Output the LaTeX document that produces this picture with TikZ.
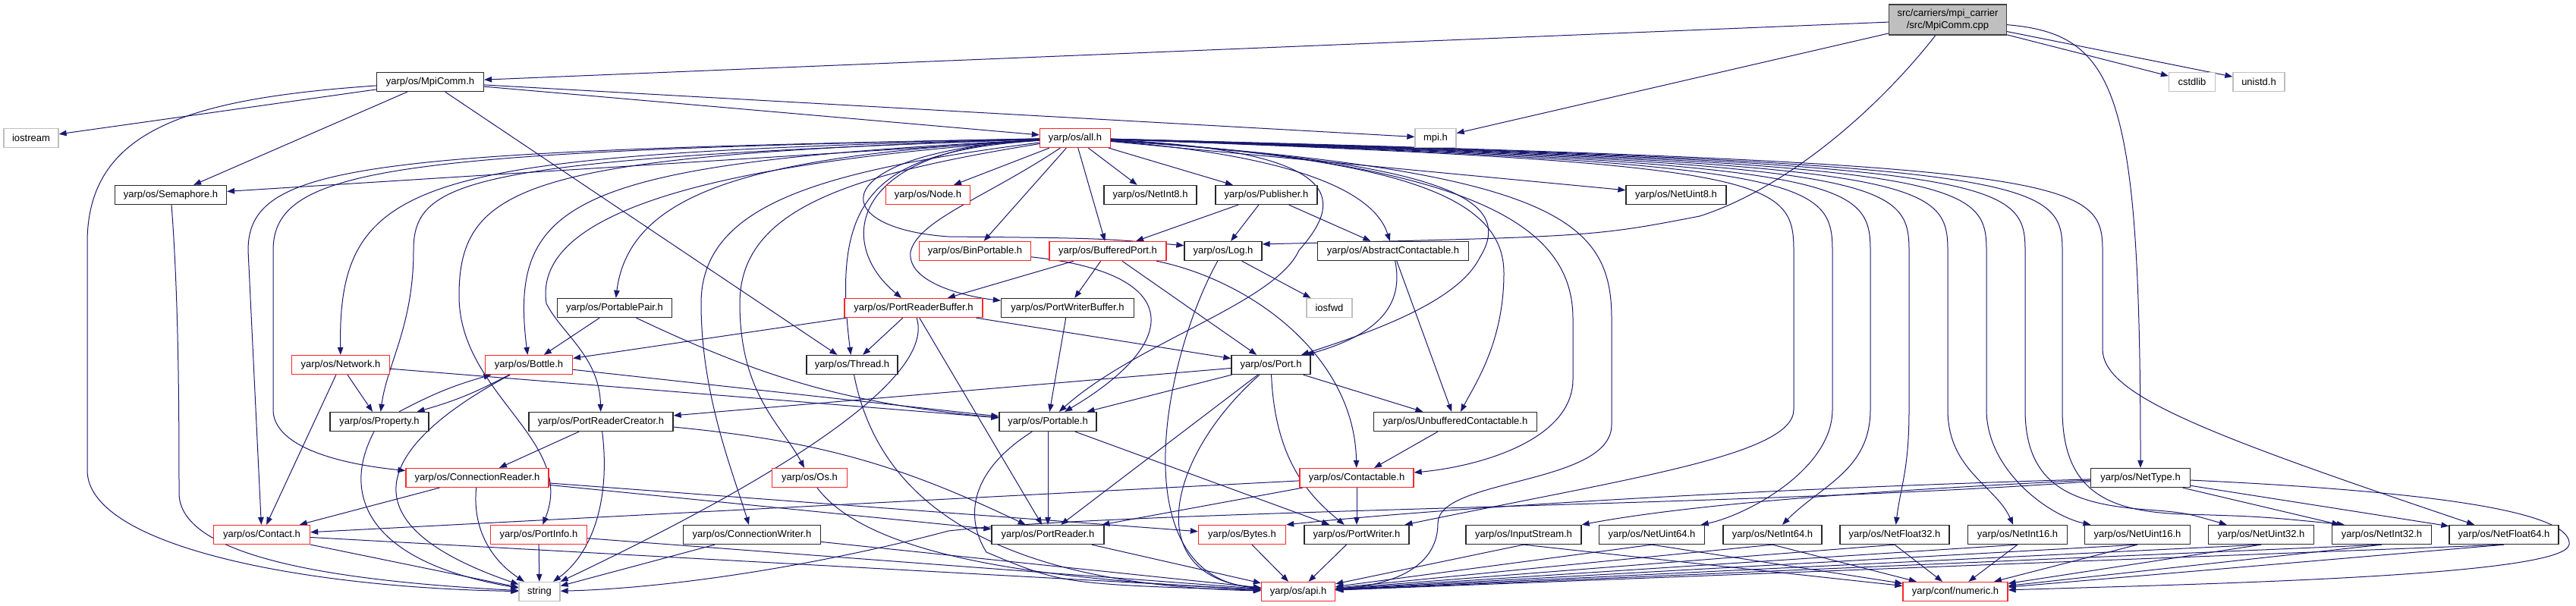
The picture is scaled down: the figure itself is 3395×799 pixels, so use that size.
\documentclass[tikz,border=0pt]{standalone}
\usepackage{fontspec}
\setmainfont{Liberation Sans}
\usetikzlibrary{arrows.meta,backgrounds}
\usepackage{xcolor}
\definecolor{edgeblue}{RGB}{25,25,112}
\definecolor{boxline}{RGB}{40,40,40}
\definecolor{truncred}{RGB}{250,40,40}
\definecolor{sysgrey}{RGB}{191,191,191}
\definecolor{rootfill}{RGB}{191,191,191}
\definecolor{rootline}{RGB}{64,64,64}

\begin{document}
\begin{tikzpicture}[x=1pt,y=-1pt,
  hdr/.style={draw=boxline,line width=1.3pt,fill=white,minimum height=25pt,
    inner xsep=2pt,inner ysep=0pt,text=black,font=\fontsize{13}{16}\selectfont},
  trunc/.style={hdr,draw=truncred},
  sys/.style={hdr,draw=sysgrey},
  src/.style={hdr,draw=rootline,fill=rootfill,minimum height=40pt,align=center},
  dep/.style={edgeblue,line width=1pt,-{Triangle[length=10pt,width=7.5pt]}}]

  \useasboundingbox (0,0) rectangle (3395,799);

  % --- row 0: the source file ---
  \node[src,minimum width=155] (cpp) at (2567,26) {src/carriers/mpi\_carrier\\/src/MpiComm.cpp};

  % --- row 1 ---
  \node[hdr,minimum width=141] (mpicomm) at (567,108) {yarp/os/MpiComm.h};
  \node[sys,minimum width=61] (cstdlib) at (2889,108) {cstdlib};
  \node[sys,minimum width=68] (unistd) at (2977,108) {unistd.h};

  % --- row 2 ---
  \node[sys,minimum width=72] (iostream) at (41,182) {iostream};
  \node[trunc,minimum width=93] (all) at (1417,182) {yarp/os/all.h};
  \node[sys,minimum width=54] (mpih) at (1892,182) {mpi.h};

  % --- row 3 ---
  \node[hdr,minimum width=147] (semaphore) at (225,257) {yarp/os/Semaphore.h};
  \node[trunc,minimum width=111] (node) at (1223,257) {yarp/os/Node.h};
  \node[hdr,minimum width=122] (netint8) at (1516,257) {yarp/os/NetInt8.h};
  \node[hdr,minimum width=134] (publisher) at (1669,257) {yarp/os/Publisher.h};
  \node[hdr,minimum width=132] (netuint8) at (2209,257) {yarp/os/NetUint8.h};

  % --- row 4 ---
  \node[trunc,minimum width=147] (binportable) at (1285,331) {yarp/os/BinPortable.h};
  \node[trunc,minimum width=154] (bufferedport) at (1460,331) {yarp/os/BufferedPort.h};
  \node[hdr,minimum width=102] (logh) at (1612,331) {yarp/os/Log.h};
  \node[hdr,minimum width=199] (abstractcont) at (1836,331) {yarp/os/AbstractContactable.h};

  % --- row 5 ---
  \node[hdr,minimum width=151] (portablepair) at (810,406) {yarp/os/PortablePair.h};
  \node[trunc,minimum width=182] (prbuffer) at (1204,406) {yarp/os/PortReaderBuffer.h};
  \node[hdr,minimum width=175] (pwbuffer) at (1407,406) {yarp/os/PortWriterBuffer.h};
  \node[sys,minimum width=60] (iosfwd) at (1752,406) {iosfwd};

  % --- row 6 ---
  \node[trunc,minimum width=129] (network) at (449,481) {yarp/os/Network.h};
  \node[trunc,minimum width=115] (bottle) at (697,481) {yarp/os/Bottle.h};
  \node[hdr,minimum width=120] (thread) at (1123,481) {yarp/os/Thread.h};
  \node[hdr,minimum width=104] (port) at (1675,481) {yarp/os/Port.h};

  % --- row 7 ---
  \node[hdr,minimum width=130] (property) at (500,556) {yarp/os/Property.h};
  \node[hdr,minimum width=190] (prcreator) at (792,556) {yarp/os/PortReaderCreator.h};
  \node[hdr,minimum width=128] (portable) at (1381,556) {yarp/os/Portable.h};
  \node[hdr,minimum width=215] (unbufcont) at (1918,556) {yarp/os/UnbufferedContactable.h};

  % --- row 8 ---
  \node[trunc,minimum width=188] (connreader) at (629,630) {yarp/os/ConnectionReader.h};
  \node[trunc,minimum width=99] (os) at (1067,630) {yarp/os/Os.h};
  \node[trunc,minimum width=150] (contactable) at (1788,630) {yarp/os/Contactable.h};
  \node[hdr,minimum width=131] (nettype) at (2821,630) {yarp/os/NetType.h};

  % --- row 9 ---
  \node[trunc,minimum width=127] (contact) at (345,705) {yarp/os/Contact.h};
  \node[trunc,minimum width=127] (portinfo) at (710,705) {yarp/os/PortInfo.h};
  \node[hdr,minimum width=181] (connwriter) at (991,705) {yarp/os/ConnectionWriter.h};
  \node[hdr,minimum width=148] (portreader) at (1381,705) {yarp/os/PortReader.h};
  \node[trunc,minimum width=115] (bytes) at (1637,705) {yarp/os/Bytes.h};
  \node[hdr,minimum width=138] (portwriter) at (1788,705) {yarp/os/PortWriter.h};
  \node[hdr,minimum width=152] (inputstream) at (2008,705) {yarp/os/InputStream.h};
  \node[hdr,minimum width=139] (netuint64) at (2177,705) {yarp/os/NetUint64.h};
  \node[hdr,minimum width=130] (netint64) at (2336,705) {yarp/os/NetInt64.h};
  \node[hdr,minimum width=144] (netfloat32) at (2497,705) {yarp/os/NetFloat32.h};
  \node[hdr,minimum width=131] (netint16) at (2659,705) {yarp/os/NetInt16.h};
  \node[hdr,minimum width=139] (netuint16) at (2817,705) {yarp/os/NetUint16.h};
  \node[hdr,minimum width=139] (netuint32) at (2980,705) {yarp/os/NetUint32.h};
  \node[hdr,minimum width=131] (netint32) at (3139,705) {yarp/os/NetInt32.h};
  \node[hdr,minimum width=144] (netfloat64) at (3300,705) {yarp/os/NetFloat64.h};

  % --- row 10 ---
  \node[sys,minimum width=54] (string) at (711,780) {string};
  \node[trunc,minimum width=97] (api) at (1711,780) {yarp/os/api.h};
  \node[trunc,minimum width=138] (numeric) at (2577,780) {yarp/conf/numeric.h};

  \begin{scope}[on background layer]
  \fill[white] (0,0) rectangle (3395,799);

  % --- MpiComm.cpp ---
  \draw[dep] (cpp) -- (mpicomm);
  \draw[dep] (cpp) -- (mpih);
  \draw[dep] (cpp) -- (cstdlib);
  \draw[dep] (cpp) -- (unistd);
  \draw[dep] (cpp) .. controls (2470,150) and (2350,250) .. (2240,285)
    .. controls (2100,312) .. (logh.10);
  \draw[dep] (cpp) .. controls (2790,45) and (2821,120) .. (nettype);

  % --- MpiComm.h ---
  \draw[dep] (mpicomm) -- (iostream);
  \draw[dep] (mpicomm) -- (semaphore);
  \draw[dep] (mpicomm) -- (all);
  \draw[dep] (mpicomm) -- (mpih);
  \draw[dep] (mpicomm) -- (thread);
  \draw[dep] (mpicomm) .. controls (250,130) and (115,170) .. (115,320) -- (115,620)
    .. controls (115,720) and (400,775) .. (string);

  % --- Semaphore.h ---
  \draw[dep] (semaphore) .. controls (236,400) and (236,560) .. (236,650)
    .. controls (236,730) and (420,765) .. (string);

  % --- all.h, straight ones ---
  \foreach \tgt in {semaphore,node,netint8,publisher,binportable,bufferedport,netuint8}
    \draw[dep] (all) -- (\tgt);

  % --- all.h, curving off to the left ---
  \draw[dep] (all) .. controls (1090,200) and (1080,300) .. (1250,312)
    .. controls (1450,314) .. (logh.172);
  \draw[dep] (all) .. controls (1000,205) and (830,250) .. (portablepair);
  \draw[dep] (all) .. controls (1120,195) and (1100,320) .. (prbuffer);
  \draw[dep] (all) .. controls (1300,260) and (1210,290) .. (1200,332)
    .. controls (1195,375) and (1280,392) .. (pwbuffer);
  \draw[dep] (all) .. controls (560,205) and (445,225) .. (network);
  \draw[dep] (all) .. controls (480,200) and (327,215) .. (327,330) -- (contact);
  \draw[dep] (all) .. controls (520,200) and (360,220) .. (360,330) -- (360,540)
    .. controls (360,590) and (450,612) .. (connreader);
  \draw[dep] (all) .. controls (620,210) and (545,235) .. (545,330)
    .. controls (545,430) and (510,480) .. (property);
  \draw[dep] (all) .. controls (700,205) and (605,240) .. (605,390)
    .. controls (605,520) and (760,580) .. (portinfo);
  \draw[dep] (all) .. controls (760,215) and (669,260) .. (bottle);
  \draw[dep] (all) .. controls (860,220) and (705,300) .. (720,400)
    .. controls (740,440) and (790,470) .. (prcreator);
  \draw[dep] (all) .. controls (1080,225) and (924,270) .. (924,400)
    .. controls (924,520) and (965,620) .. (connwriter);
  \draw[dep] (all) .. controls (1120,230) and (975,275) .. (975,400)
    .. controls (975,520) and (1030,560) .. (os);
  \draw[dep] (all) .. controls (1150,200) and (1095,260) .. (thread);

  % --- all.h, curving off to the right ---
  \draw[dep] (all) .. controls (1700,205) and (1810,250) .. (abstractcont);
  \draw[dep] (all) .. controls (1790,200) and (1765,270) .. (1712,330)
    .. controls (1680,400) and (1500,450) .. (portable);
  \draw[dep] (all) .. controls (1900,215) and (2000,260) .. (1950,340)
    .. controls (1920,400) and (1800,440) .. (port);
  \draw[dep] (all) .. controls (1850,210) and (1982,260) .. (1982,360)
    .. controls (1982,450) and (1945,505) .. (unbufcont);
  \draw[dep] (all) .. controls (1950,215) and (2073,300) .. (2073,420) -- (2073,500)
    .. controls (2073,580) and (1950,615) .. (contactable);
  \draw[dep] (all) .. controls (2050,225) and (2124,290) .. (2124,420) -- (2124,560)
    .. controls (2124,640) and (1895,630) .. (1895,690)
    .. controls (1895,740) and (1850,770) .. (api);
  \draw[dep] (all) .. controls (2330,215) and (2364,235) .. (2364,330) -- (2364,540)
    .. controls (2364,600) and (2150,630) .. (portwriter);
  % vertical fan down to the Net types
  \foreach \vx/\tgt/\ex/\ey in {2415/netuint64/2300/680, 2465/netint64/2400/640,
      2516/netfloat32/2505/640, 2567/netint16/2630/640, 2618/netuint16/2700/680}
    \draw[dep] (all) .. controls (\vx-40,215) and (\vx,235) .. (\vx,330) -- (\vx,540)
      .. controls (\vx,620) and (\ex,\ey) .. (\tgt);
  \draw[dep] (all) .. controls (2629,215) and (2669,235) .. (2669,330) -- (2669,540)
    .. controls (2669,640) and (2730,665) .. (2830,672) .. controls (2880,676) .. (netuint32);
  \draw[dep] (all) .. controls (2678,215) and (2718,235) .. (2718,330) -- (2718,540)
    .. controls (2718,650) and (2780,675) .. (2880,678) .. controls (2980,681) .. (netint32.165);
  \draw[dep] (all) .. controls (2731,215) and (2771,235) .. (2771,330) -- (2771,460)
    .. controls (2771,520) and (2900,570) .. (netfloat64);

  % --- Publisher.h ---
  \draw[dep] (publisher) -- (bufferedport);
  \draw[dep] (publisher) -- (logh);
  \draw[dep] (publisher) -- (abstractcont);

  % --- BufferedPort.h ---
  \draw[dep] (bufferedport) -- (prbuffer);
  \draw[dep] (bufferedport) -- (pwbuffer);
  \draw[dep] (bufferedport) -- (port);
  \draw[dep] (bufferedport) .. controls (1650,370) and (1785,470) .. (contactable);

  % --- BinPortable.h, Log.h ---
  \draw[dep] (binportable) .. controls (1560,360) and (1560,450) .. (portable);
  \draw[dep] (logh) -- (iosfwd);
  \draw[dep] (logh) .. controls (1530,480) and (1480,760) .. (api);

  % --- AbstractContactable.h ---
  \draw[dep] (abstractcont) .. controls (1850,400) and (1820,440) .. (port);
  \draw[dep] (abstractcont) -- (unbufcont);

  % --- PortWriterBuffer.h, PortReaderBuffer.h ---
  \draw[dep] (pwbuffer) -- (portable);
  \draw[dep] (prbuffer) -- (bottle);
  \draw[dep] (prbuffer) -- (thread);
  \draw[dep] (prbuffer) -- (port);
  \draw[dep] (prbuffer) -- (portreader);
  \draw[dep] (prbuffer) .. controls (1240,520) and (900,690) .. (string);

  % --- PortablePair.h ---
  \draw[dep] (portablepair) -- (bottle);
  \draw[dep] (portablepair) to[bend right=10] (portable);

  % --- Network.h ---
  \draw[dep] (network) -- (property);
  \draw[dep] (network) -- (contact);
  \draw[dep] (network) -- (portable);

  % --- Bottle.h, Property.h ---
  \draw[dep] (bottle) to[bend left=6] (property);
  \draw[dep] (property) to[bend left=6] (bottle);
  \draw[dep] (bottle) -- (portable);
  \draw[dep] (bottle) .. controls (530,570) and (420,680) .. (string);
  \draw[dep] (property) .. controls (450,650) and (480,740) .. (string);

  % --- Thread.h ---
  \draw[dep] (thread) .. controls (1150,620) and (1250,770) .. (api);

  % --- Port.h ---
  \draw[dep] (port) -- (prcreator);
  \draw[dep] (port) -- (portable);
  \draw[dep] (port) -- (unbufcont);
  \draw[dep] (port) -- (portreader);
  \draw[dep] (port) .. controls (1680,600) and (1720,650) .. (portwriter);
  \draw[dep] (port) .. controls (1540,600) and (1500,760) .. (api);

  % --- PortReaderCreator.h ---
  \draw[dep] (prcreator) -- (connreader);
  \draw[dep] (prcreator) .. controls (805,660) and (780,730) .. (string);
  \draw[dep] (prcreator) to[bend left=10] (portreader);

  % --- Portable.h ---
  \draw[dep] (portable) -- (portreader);
  \draw[dep] (portable) -- (portwriter);
  \draw[dep] (portable) .. controls (1280,620) and (1270,680) .. (1300,728)
    .. controls (1400,770) .. (api);

  % --- UnbufferedContactable.h, Contactable.h ---
  \draw[dep] (unbufcont) -- (contactable);
  \draw[dep] (contactable) -- (portwriter);
  \draw[dep] (contactable) -- (portreader);
  \draw[dep] (contactable) -- (contact);

  % --- ConnectionReader.h, Os.h ---
  \draw[dep] (connreader) -- (contact);
  \draw[dep] (connreader) -- (bytes);
  \draw[dep] (connreader) -- (portreader);
  \draw[dep] (connreader) .. controls (622,700) and (650,740) .. (string);
  \draw[dep] (os) .. controls (1150,740) and (1400,765) .. (api);

  % --- NetType.h ---
  \draw[dep] (nettype) -- (netint32);
  \draw[dep] (nettype) -- (netfloat64);
  \draw[dep] (nettype) .. controls (2300,645) and (1900,670) .. (bytes.north east);
  \draw[dep] (nettype) .. controls (2400,650) and (2200,670) .. (inputstream.north east);
  \draw[dep] (nettype) .. controls (2300,668) and (1500,672) .. (1250,700)
    .. controls (1100,740) and (900,775) .. (string);
  \draw[dep] (nettype) .. controls (3250,650) and (3390,680) .. (3386,718)
    .. controls (3380,760) and (2900,770) .. (numeric);

  % --- Contact.h, PortInfo.h, ConnectionWriter.h ---
  \draw[dep] (contact) -- (string);
  \draw[dep] (contact) -- (api);
  \draw[dep] (portinfo) -- (string);
  \draw[dep] (portinfo) -- (api);
  \draw[dep] (connwriter) -- (string);
  \draw[dep] (connwriter) -- (api);

  % --- bottom row into api.h and numeric.h ---
  \draw[dep] (portreader) -- (api);
  \draw[dep] (bytes) -- (api);
  \draw[dep] (portwriter) -- (api);
  \foreach \tgt in {inputstream,netuint64,netint64,netfloat32,netint16,
      netuint16,netuint32,netint32,netfloat64}{
    \draw[dep] (\tgt.south) -- (api);
    \draw[dep] (\tgt.south) -- (numeric);
  }
  \end{scope}

\end{tikzpicture}
\end{document}
